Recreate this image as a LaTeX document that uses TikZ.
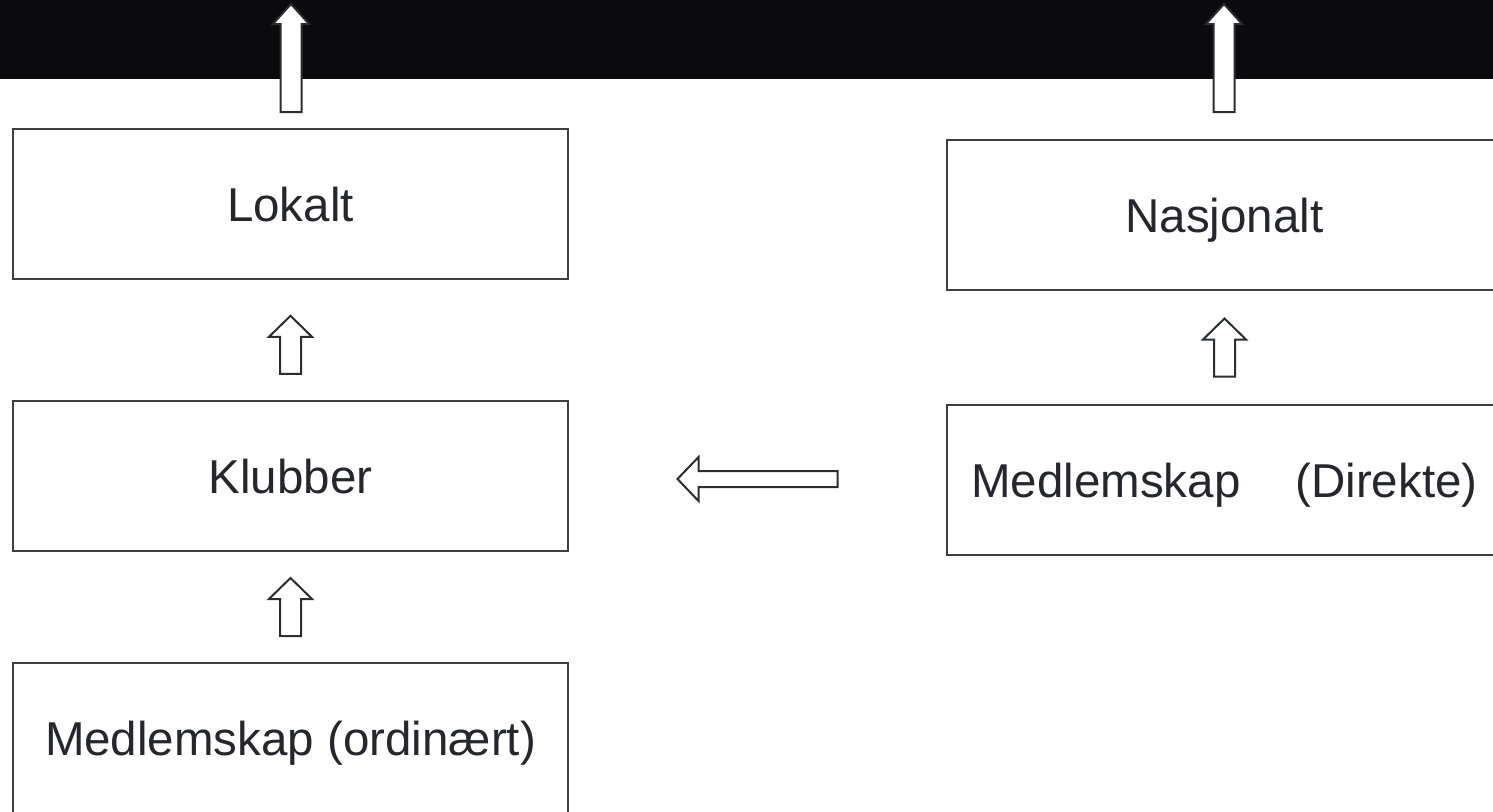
\documentclass[tikz,border=0pt]{standalone}
\usepackage{fontspec}
\setmainfont{Liberation Sans}
\usetikzlibrary{calc}
\definecolor{band}{HTML}{0B0B0E}
\definecolor{edge}{HTML}{3C3E44}
\definecolor{ink}{HTML}{25272C}
\definecolor{arrowedge}{HTML}{2B2D33}
\tikzset{
  uparrowsmall/.pic={
    \draw[blockarrow] (-10.5,29) -- (-10.5,-8) -- (-21.5,-8) -- (0,-29) -- (21.5,-8) -- (10.5,-8) -- (10.5,29) -- cycle;
  },
  leftarrowlong/.pic={
    \draw[blockarrow] (80,-8) -- (-59,-8) -- (-59,-22) -- (-80,0) -- (-59,22) -- (-59,8) -- (80,8) -- cycle;
  },
  toparrow/.pic={
    \draw[blockarrow] (-10.5,0) -- (-10.5,-88) -- (-18,-88) -- (0,-108) -- (18,-88) -- (10.5,-88) -- (10.5,0) -- cycle;
  }
}
\begin{document}
\begin{tikzpicture}[x=1pt,y=-1pt,
  box/.style={draw=edge, line width=2pt, fill=white, minimum width=555pt, minimum height=150pt, inner sep=0pt, text=ink, text depth=0pt, font=\fontsize{47.5}{57}\selectfont, text height=34pt},
  blockarrow/.style={draw=arrowedge, line width=2pt, fill=white, line join=miter}]
\useasboundingbox (0,0) rectangle (1493,811);
\fill[band] (0,0) rectangle (1493,79);
% boxes
\node[box] (lok) at (290.5,204) {Lokalt};
\node[box] (klub) at (290.5,476) {Klubber};
\node[box] (ord) at (290.5,738) {Medlemskap (ordinært)};
\node[box] (nas) at (1224.5,215) {Nasjonalt};
\node[box] (dir) at (1224.5,480) {Medlemskap\hspace{55pt}(Direkte)};
% block arrows between boxes
\pic at ($(ord.north)!0.5!(klub.south)$) {uparrowsmall};
\pic at ($(lok.south)!0.54!(klub.north)$) {uparrowsmall};
\pic at ($(nas.south)!0.5!(dir.north)$) {uparrowsmall};
\pic at ($(klub.east)!0.5!(dir.west)+(0,1)$) {leftarrowlong};
% arrows leaving upward
\pic at ($(lok.north)+(0.5,-16)$) {toparrow};
\pic at ($(nas.north)+(-0.5,-27)$) {toparrow};
\end{tikzpicture}
\end{document}
